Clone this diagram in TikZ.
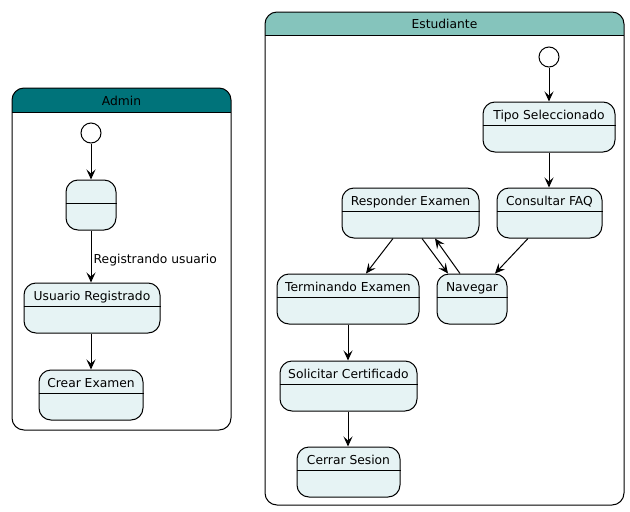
\documentclass[tikz,border=0pt]{standalone}
\usepackage{fontspec}
\setmainfont{DejaVu Sans}
\usetikzlibrary{arrows.meta,calc}
\definecolor{statefill}{HTML}{E6F3F4}
\definecolor{adminhead}{HTML}{00737A}
\definecolor{esthead}{HTML}{85C4BC}
\tikzset{
  stbox/.style={draw=black, fill=statefill, rounded corners=12pt, line width=1pt, minimum height=50pt, inner sep=0pt},
  sttext/.style={font=\fontsize{12.3}{15}\selectfont, inner sep=0pt, anchor=base},
  initst/.style={circle, draw=black, fill=white, line width=1pt, minimum size=20pt, inner sep=0pt},
  arr/.style={-{Stealth[length=10pt,width=9pt,inset=4pt]}, line width=1pt},
  cont/.style={draw=black, line width=1pt, rounded corners=12pt},
}
\newcommand{\mkstate}[5]{%
  \node[stbox, minimum width=#4] (#1) at (#2,#3) {};
  \node[sttext] (#1t) at ($(#1.north)+(0,18)$) {#5};
  \draw[line width=1pt] ($(#1.north west)+(0,24)$) -- ($(#1.north east)+(0,24)$);
}
\begin{document}
\begin{tikzpicture}[x=1pt,y=-1pt]
\useasboundingbox (0,0) rectangle (630,512);
% Admin container
\begin{scope}
  \clip[rounded corners=12pt] (12,88) rectangle (231,430);
  \fill[adminhead] (12,88) rectangle (231,112);
\end{scope}
\draw[cont] (12,88) rectangle (231,430);
\draw[line width=1pt] (12,112) -- (231,112);
\node[sttext] (admint) at (121.5,105) {Admin};
% Estudiante container
\begin{scope}
  \clip[rounded corners=12pt] (265,12) rectangle (624,505);
  \fill[esthead] (265,12) rectangle (624,35);
\end{scope}
\draw[cont] (265,12) rectangle (624,505);
\draw[line width=1pt] (265,35) -- (624,35);
\node[sttext] (estt) at (444.5,28.5) {Estudiante};
% Admin states
\node[initst] (A0) at (91,133) {};
\mkstate{A1}{91}{205}{50pt}{}
\mkstate{A2}{92}{308}{136pt}{Usuario Registrado}
\mkstate{A3}{91}{395}{104pt}{Crear Examen}
\draw[arr] (A0.south) -- (A1.north);
\draw[arr] (A1.south) -- (A1.south |- A2.north);
\node[sttext, anchor=base west] (lbl) at (93.5,263.5) {Registrando usuario};
\draw[arr] (A2.south -| A3.north) -- (A3.north);
% Estudiante states
\node[initst] (E0) at (549,57) {};
\mkstate{Tipo}{549}{127}{132pt}{Tipo Seleccionado}
\mkstate{FAQ}{549.5}{213}{105pt}{Consultar FAQ}
\mkstate{Resp}{410.5}{213}{137pt}{Responder Examen}
\mkstate{Term}{348}{299}{142pt}{Terminando Examen}
\mkstate{Nav}{472}{299}{70pt}{Navegar}
\mkstate{Sol}{348.5}{386}{137pt}{Solicitar Certificado}
\mkstate{Cer}{348.5}{472}{103pt}{Cerrar Sesion}
\draw[arr] (E0.south) -- (Tipo.north);
\draw[arr] (Tipo.south) -- (Tipo.south |- FAQ.north);
\draw[arr] ([xshift=-17.5pt]Resp.south) -- ([xshift=18pt]Term.north);
\draw[arr] ([xshift=11.5pt]Resp.south) -- ([xshift=-24pt]Nav.north);
\draw[arr] ([xshift=-12pt]Nav.north) -- ([xshift=24.5pt]Resp.south);
\draw[arr] ([xshift=-21.5pt]FAQ.south) -- ([xshift=23pt]Nav.north);
\draw[arr] (Term.south) -- (Term.south |- Sol.north);
\draw[arr] (Term.south |- Sol.south) -- (Term.south |- Cer.north);
\end{tikzpicture}
\end{document}
